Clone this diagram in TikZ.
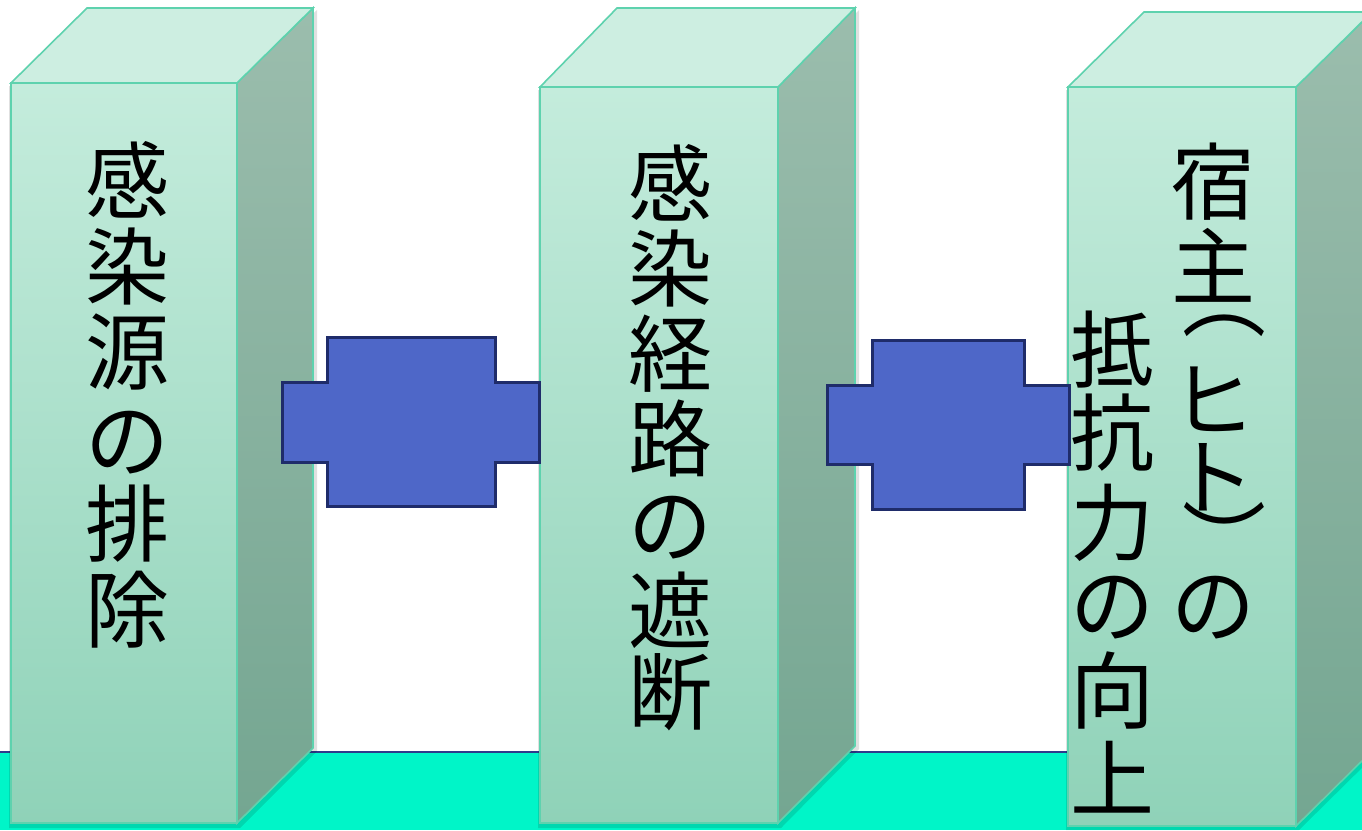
\documentclass[tikz,border=0pt]{standalone}
\usepackage{fontspec}
\newfontfamily\jp{Noto Sans CJK JP}
\definecolor{frontTop}{HTML}{C4ECDC}
\definecolor{frontBot}{HTML}{8FD2B8}
\definecolor{topc}{HTML}{CDEEE1}
\definecolor{sideTop}{HTML}{9BBDAD}
\definecolor{sideBot}{HTML}{74A691}
\definecolor{edgec}{HTML}{5ED2AE}
\definecolor{floorc}{HTML}{00F5C8}
\definecolor{linec}{HTML}{2E3A8C}
\definecolor{crossfill}{HTML}{4E67C8}
\definecolor{crossdraw}{HTML}{1F2C6A}
\tikzset{
  frontface/.style={draw=edgec, line width=1.6pt, top color=frontTop, bottom color=frontBot},
  topface/.style={draw=edgec, line width=1.6pt, fill=topc},
  sideface/.style={draw=edgec, line width=1.6pt, top color=sideTop, bottom color=sideBot},
  pshadow/.style={fill=black, fill opacity=0.12},
  crossshape/.style={draw=crossdraw, line width=3pt, fill=crossfill, line join=miter},
  jchar/.style={font=\jp\fontsize{84}{84}\selectfont, inner sep=0pt, text=black},
  jparen/.style={jchar, rotate=-90},
}
\begin{document}
\begin{tikzpicture}[x=1pt,y=-1pt]
\useasboundingbox (0,0) rectangle (1362,830);
\clip (0,0) rectangle (1362,830);
\fill[white] (0,0) rectangle (1362,830);
% floor
\fill[floorc] (0,752) rectangle (1362,830);
\draw[linec, line width=2pt] (0,752) -- (1362,752);

% soft shadows of the pillars
\path[pshadow] (9,86) -- (240,86) -- (317,10) -- (317,751) -- (240,828) -- (9,828) -- cycle;
\path[pshadow] (538,90) -- (781,90) -- (859,10) -- (859,749) -- (781,828) -- (538,828) -- cycle;
\path[pshadow] (1066,90) -- (1299,90) -- (1376,14) -- (1376,754) -- (1299,830) -- (1066,830) -- cycle;

% pillar 1
\path[sideface] (237,83) -- (313,8) -- (313,748) -- (237,823) -- cycle;
\path[topface] (11,83) -- (87,8) -- (313,8) -- (237,83) -- cycle;
\path[frontface] (11,83) rectangle (237,823);

% pillar 2
\path[sideface] (778,87) -- (855,8) -- (855,746) -- (778,823) -- cycle;
\path[topface] (540,87) -- (617,8) -- (855,8) -- (778,87) -- cycle;
\path[frontface] (540,87) rectangle (778,823);

% pillar 3
\path[sideface] (1296,87) -- (1372,12) -- (1372,751) -- (1296,826) -- cycle;
\path[topface] (1068,87) -- (1144,12) -- (1372,12) -- (1296,87) -- cycle;
\path[frontface] (1068,87) rectangle (1296,826);

% cross shapes
\path[crossshape] (282,382) -- (327,382) -- (327,337) -- (495,337) -- (495,382) -- (539,382)
  -- (539,462) -- (495,462) -- (495,506) -- (327,506) -- (327,462) -- (282,462) -- cycle;
\path[crossshape] (827,385) -- (872,385) -- (872,340) -- (1024,340) -- (1024,385) -- (1069,385)
  -- (1069,464) -- (1024,464) -- (1024,509) -- (872,509) -- (872,464) -- (827,464) -- cycle;

% texts
\foreach \c/\y [count=\i] in {感/180,染/266,源/352,の/443,排/524,除/610}
  \node[jchar] (a\i) at (127,\y) {\c};
\foreach \c/\y [count=\i] in {感/183,染/268,経/354,路/438,の/528,遮/610,断/692}
  \node[jchar] (b\i) at (670,\y) {\c};
\foreach \c/\y [count=\i] in {宿/182,主/265,ヒ/399,ト/477,の/608}
  \node[jchar] (c\i) at (1213,\y) {\c};
\node[jparen] (cl) at (1224,298) {（};
\node[jparen] (cr) at (1224,540) {）};
\foreach \c/\y [count=\i] in {抵/350,抗/433,力/523,の/608,向/690,上/777}
  \node[jchar] (d\i) at (1112,\y) {\c};
\end{tikzpicture}
\end{document}
